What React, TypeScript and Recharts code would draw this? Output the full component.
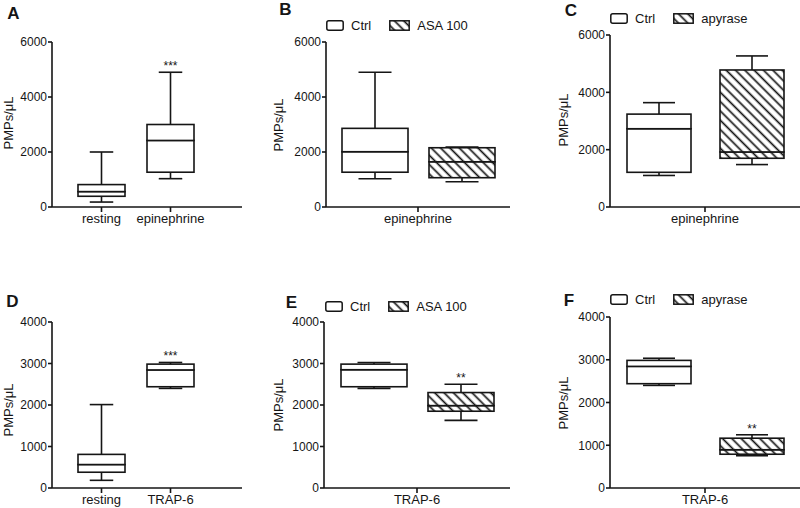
import React from 'react';
import { ComposedChart, Bar, XAxis, YAxis, Legend } from 'recharts';

const FONT = '"Liberation Sans", Arial, Helvetica, sans-serif';
const INK = '#151515';
const SW = 1.6;

// ---------------- data ----------------
// Panel A (single series per category)
const categoriesA = ['resting', 'epinephrine'];
const minA = [180, 1030];
const q1A = [390, 1265];
const medianA = [560, 2420];
const q3A = [815, 3000];
const maxA = [2000, 4900];
const sigA = ['', '***'];

// Panel B  [min, q1, median, q3, max]
const categoriesB = ['epinephrine'];
const seriesB = ['Ctrl', 'ASA 100'];
const ctrlB = [1030, 1265, 2010, 2860, 4900];
const asaB = [920, 1065, 1645, 2155, 2180];
const sigB = ['', ''];

// Panel C
const categoriesC = ['epinephrine'];
const seriesC = ['Ctrl', 'apyrase'];
const ctrlC = [1100, 1210, 2730, 3240, 3640];
const apyraseC = [1480, 1700, 1920, 4780, 5270];
const sigC = ['', ''];

// Panel D
const categoriesD = ['resting', 'TRAP-6'];
const minD = [185, 2400];
const q1D = [380, 2440];
const medianD = [565, 2845];
const q3D = [810, 2985];
const maxD = [2010, 3025];
const sigD = ['', '***'];

// Panel E
const categoriesE = ['TRAP-6'];
const seriesE = ['Ctrl', 'ASA 100'];
const ctrlE = [2400, 2440, 2850, 2985, 3025];
const asaE = [1630, 1850, 1985, 2300, 2500];
const sigE = ['', '**'];

// Panel F
const categoriesF = ['TRAP-6'];
const seriesF = ['Ctrl', 'apyrase'];
const ctrlF = [2400, 2440, 2845, 2985, 3035];
const apyraseF = [755, 790, 895, 1165, 1245];
const sigF = ['', '**'];

const yTicks6000 = [0, 2000, 4000, 6000];
const yTicks4000 = [0, 1000, 2000, 3000, 4000];
const yLabel = 'PMPs/μL';

// ---------------- helpers ----------------
function stats(prefix: string, five: number[], sig: string) {
  const [mn, q1, md, q3, mx] = five;
  return {
    [prefix + '_base']: mn,
    [prefix + '_lo']: q1 - mn,
    [prefix + '_b1']: md - q1,
    [prefix + '_b2']: q3 - md,
    [prefix + '_hi']: mx - q3,
    [prefix + '_sig']: sig,
  };
}

function singleRows(cats: string[], mn: number[], q1: number[], md: number[], q3: number[], mx: number[], sig: string[]) {
  return cats.map((c, i) => ({ name: c, ...stats('s0', [mn[i], q1[i], md[i], q3[i], mx[i]], sig[i]) }));
}

function pairRows(cats: string[], a: number[], b: number[], sig: string[]) {
  return cats.map((c) => ({ name: c, ...stats('s0', a, sig[0]), ...stats('s1', b, sig[1]) }));
}

const hiddenShape = () => <g />;

const lowShape = (p: any) => {
  const cx = p.x + p.width / 2;
  const cw = p.width * 0.5;
  const top = Math.min(p.y, p.y + p.height);
  const bot = Math.max(p.y, p.y + p.height);
  return (
    <g stroke={INK} strokeWidth={SW}>
      <line x1={cx} y1={top} x2={cx} y2={bot} />
      <line x1={cx - cw / 2} y1={bot} x2={cx + cw / 2} y2={bot} />
    </g>
  );
};

const makeBoxShape = (fill: string) => (p: any) => {
  const top = Math.min(p.y, p.y + p.height);
  const h = Math.abs(p.height);
  return <rect x={p.x} y={top} width={p.width} height={h} fill={fill} stroke={INK} strokeWidth={SW} />;
};

const makeHighShape = (sigKey: string) => (p: any) => {
  const cx = p.x + p.width / 2;
  const cw = p.width * 0.5;
  const top = Math.min(p.y, p.y + p.height);
  const bot = Math.max(p.y, p.y + p.height);
  const sig = p.payload ? p.payload[sigKey] : '';
  return (
    <g>
      <g stroke={INK} strokeWidth={SW}>
        <line x1={cx} y1={top} x2={cx} y2={bot} />
        <line x1={cx - cw / 2} y1={top} x2={cx + cw / 2} y2={top} />
      </g>
      {sig ? (
        <text x={cx} y={top - 2} textAnchor="middle" fontSize={12} fontFamily={FONT} fill={INK}>
          {sig}
        </text>
      ) : null}
    </g>
  );
};

function boxBars(prefix: string, stack: string, fill: string) {
  return [
    <Bar key={prefix + 'base'} dataKey={prefix + '_base'} stackId={stack} shape={hiddenShape} isAnimationActive={false} legendType="none" />,
    <Bar key={prefix + 'lo'} dataKey={prefix + '_lo'} stackId={stack} shape={lowShape} isAnimationActive={false} legendType="none" />,
    <Bar key={prefix + 'b1'} dataKey={prefix + '_b1'} stackId={stack} shape={makeBoxShape(fill)} isAnimationActive={false} legendType="none" />,
    <Bar key={prefix + 'b2'} dataKey={prefix + '_b2'} stackId={stack} shape={makeBoxShape(fill)} isAnimationActive={false} legendType="none" />,
    <Bar key={prefix + 'hi'} dataKey={prefix + '_hi'} stackId={stack} shape={makeHighShape(prefix + '_sig')} isAnimationActive={false} legendType="none" />,
  ];
}

function Hatch({ id }: { id: string }) {
  const s = 6.6;
  return (
    <pattern id={id} patternUnits="userSpaceOnUse" width={s} height={s} patternTransform="rotate(-45)">
      <rect x={0} y={0} width={s} height={s} fill="#fff" />
      <line x1={s / 2} y1={0} x2={s / 2} y2={s} stroke={INK} strokeWidth={1.7} />
    </pattern>
  );
}

const makeLegend = (names: string[], pid: string) => () => (
  <div
    style={{
      display: 'flex',
      alignItems: 'center',
      fontFamily: FONT,
      fontSize: 13,
      color: INK,
      height: 16,
      whiteSpace: 'nowrap',
    }}
  >
    <svg width={18} height={11} style={{ display: 'block' }}>
      <rect x={0.8} y={0.8} width={16.4} height={9.4} rx={2} fill="#fff" stroke={INK} strokeWidth={1.5} />
    </svg>
    <span style={{ marginLeft: 7 }}>{names[0]}</span>
    <svg width={21} height={11} style={{ display: 'block', marginLeft: 18 }}>
      <defs>
        <Hatch id={pid + '-lg'} />
      </defs>
      <rect x={0.8} y={0.8} width={19.4} height={9.4} fill={`url(#${pid}-lg)`} stroke={INK} strokeWidth={1.5} />
    </svg>
    <span style={{ marginLeft: 7 }}>{names[1]}</span>
  </div>
);

type PanelProps = {
  pid: string;
  left: number;
  top: number;
  width: number;
  height: number;
  margin: { top: number; right: number; bottom: number; left: number };
  yWidth: number;
  xHeight: number;
  yMax: number;
  yTicks: number[];
  rows: any[];
  pair: boolean;
  barSize: number;
  barGap?: number;
  xPadding?: { left: number; right: number };
  legendNames?: string[];
  legendPos?: { left: number; top: number };
};

function Panel(props: PanelProps) {
  const { pid } = props;
  return (
    <div style={{ position: 'absolute', left: props.left, top: props.top, width: props.width, height: props.height }}>
      <ComposedChart
        width={props.width}
        height={props.height}
        data={props.rows}
        margin={props.margin}
        barSize={props.barSize}
        barGap={props.barGap ?? 4}
      >
        <defs>
          <Hatch id={pid + '-hatch'} />
        </defs>
        <XAxis
          dataKey="name"
          height={props.xHeight}
          tick={{ fontSize: 13, fill: INK, fontFamily: FONT }}
          tickLine={{ stroke: INK, strokeWidth: SW }}
          axisLine={{ stroke: INK, strokeWidth: SW }}
          tickSize={5}
          tickMargin={2}
          padding={props.xPadding ?? { left: 0, right: 0 }}
          interval={0}
        />
        <YAxis
          width={props.yWidth}
          domain={[0, props.yMax]}
          ticks={props.yTicks}
          interval={0}
          tick={{ fontSize: 12, fill: INK, fontFamily: FONT }}
          tickLine={{ stroke: INK, strokeWidth: SW }}
          axisLine={{ stroke: INK, strokeWidth: SW }}
          tickSize={4}
          tickMargin={1}
          allowDataOverflow
        />
        {boxBars('s0', 'a', '#fff')}
        {props.pair ? boxBars('s1', 'b', `url(#${pid}-hatch)`) : null}
        {props.legendNames ? (
          <Legend
            layout="vertical"
            align="center"
            verticalAlign="middle"
            content={makeLegend(props.legendNames, pid)}
            wrapperStyle={{ left: props.legendPos!.left, top: props.legendPos!.top, width: 'auto', height: 'auto' }}
          />
        ) : null}
      </ComposedChart>
    </div>
  );
}

const letterStyle = (x: number, y: number): React.CSSProperties => ({
  position: 'absolute',
  left: x,
  top: y,
  transform: 'translate(-50%, -50%)',
  fontFamily: FONT,
  fontWeight: 'bold',
  fontSize: 17,
  color: INK,
  lineHeight: 1,
});

const yLabelStyle = (x: number, y: number): React.CSSProperties => ({
  position: 'absolute',
  left: x,
  top: y,
  transform: 'translate(-50%, -50%) rotate(-90deg)',
  fontFamily: FONT,
  fontSize: 13,
  color: INK,
  whiteSpace: 'nowrap',
  lineHeight: 1,
});

export default function App() {
  const rowsA = singleRows(categoriesA, minA, q1A, medianA, q3A, maxA, sigA);
  const rowsB = pairRows(categoriesB, ctrlB, asaB, sigB);
  const rowsC = pairRows(categoriesC, ctrlC, apyraseC, sigC);
  const rowsD = singleRows(categoriesD, minD, q1D, medianD, q3D, maxD, sigD);
  const rowsE = pairRows(categoriesE, ctrlE, asaE, sigE);
  const rowsF = pairRows(categoriesF, ctrlF, apyraseF, sigF);

  return (
    <div style={{ position: 'absolute', left: 0, top: 0, width: 800, height: 508, background: '#fff', overflow: 'hidden' }}>
      <Panel
        pid="A" left={0} top={0} width={260} height={240}
        margin={{ top: 42, right: 18, bottom: 3, left: 0 }}
        yWidth={52} xHeight={30} yMax={6000} yTicks={yTicks6000}
        rows={rowsA} pair={false} barSize={47}
        xPadding={{ left: 15, right: 37 }}
      />
      <Panel
        pid="B" left={260} top={0} width={270} height={240}
        margin={{ top: 42, right: 20, bottom: 3, left: 0 }}
        yWidth={66} xHeight={30} yMax={6000} yTicks={yTicks6000}
        rows={rowsB} pair barSize={66} barGap={21}
        legendNames={seriesB} legendPos={{ left: 66, top: 17 }}
      />
      <Panel
        pid="C" left={530} top={0} width={270} height={240}
        margin={{ top: 35, right: 0, bottom: 3, left: 0 }}
        yWidth={80} xHeight={30} yMax={6000} yTicks={yTicks6000}
        rows={rowsC} pair barSize={64} barGap={29}
        legendNames={seriesC} legendPos={{ left: 80, top: 10 }}
      />
      <Panel
        pid="D" left={0} top={260} width={260} height={248}
        margin={{ top: 62, right: 18, bottom: 0, left: 0 }}
        yWidth={52} xHeight={20} yMax={4000} yTicks={yTicks4000}
        rows={rowsD} pair={false} barSize={47}
        xPadding={{ left: 15, right: 37 }}
      />
      <Panel
        pid="E" left={260} top={260} width={270} height={248}
        margin={{ top: 62, right: 20, bottom: 0, left: 0 }}
        yWidth={64} xHeight={20} yMax={4000} yTicks={yTicks4000}
        rows={rowsE} pair barSize={66} barGap={21}
        legendNames={seriesE} legendPos={{ left: 65, top: 38 }}
      />
      <Panel
        pid="F" left={530} top={260} width={270} height={248}
        margin={{ top: 57, right: 0, bottom: 0, left: 0 }}
        yWidth={80} xHeight={20} yMax={4000} yTicks={yTicks4000}
        rows={rowsF} pair barSize={64} barGap={29}
        legendNames={seriesF} legendPos={{ left: 80, top: 31 }}
      />

      <div style={letterStyle(13.5, 12.5)}>A</div>
      <div style={letterStyle(285.5, 9)}>B</div>
      <div style={letterStyle(571, 9.5)}>C</div>
      <div style={letterStyle(12.5, 301)}>D</div>
      <div style={letterStyle(291.5, 301.5)}>E</div>
      <div style={letterStyle(569, 300)}>F</div>

      <div style={yLabelStyle(7.5, 123)}>{yLabel}</div>
      <div style={yLabelStyle(278, 125)}>{yLabel}</div>
      <div style={yLabelStyle(563, 120)}>{yLabel}</div>
      <div style={yLabelStyle(7.5, 410)}>{yLabel}</div>
      <div style={yLabelStyle(278, 405)}>{yLabel}</div>
      <div style={yLabelStyle(563, 403)}>{yLabel}</div>
    </div>
  );
}
